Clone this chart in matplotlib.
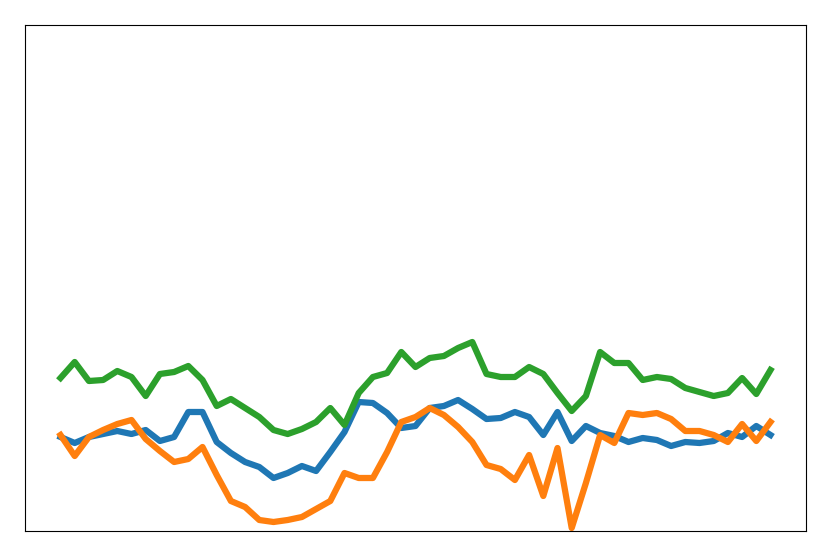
import numpy as np
import matplotlib
matplotlib.use("Agg")
import matplotlib.pyplot as plt

# heights (axis runs 0..506)
blue = [94, 88, 94, 97, 100, 97, 101, 90, 94, 119, 119, 89, 78, 69, 64, 53, 58,
        65, 60, 79, 99, 129, 128, 118, 103, 105, 123, 125, 131, 122, 112, 113,
        119, 114, 96, 119, 90, 105, 98, 95, 89, 93, 91, 85, 89, 88, 90, 98, 94,
        105, 96]
orange = [96, 75, 94, 101, 107, 111, 92, 80, 69, 72, 84, 56, 30, 24, 11, 9, 11,
          14, 22, 30, 58, 53, 53, 79, 109, 114, 123, 116, 104, 89, 66, 62, 51,
          76, 35, 83, 3, 48, 96, 88, 118, 116, 118, 112, 100, 100, 96, 89, 107,
          90, 109]
green = [153, 169, 150, 151, 160, 154, 135, 157, 159, 165, 151, 125, 132, 123,
         114, 101, 97, 102, 109, 123, 106, 138, 154, 158, 179, 164, 173, 175,
         183, 189, 157, 154, 154, 164, 157, 138, 120, 135, 179, 168, 168, 151,
         154, 152, 143, 139, 135, 138, 153, 137, 161]

x = np.arange(len(blue))

fig = plt.figure(figsize=(8.31, 5.57), dpi=100)
ax = fig.add_axes([25 / 831, 26 / 557, 781 / 831, 506 / 557])

ax.plot(x, blue, color="#1f77b4", lw=4.5)
ax.plot(x, orange, color="#ff7f0e", lw=4.5)
ax.plot(x, green, color="#2ca02c", lw=4.5)

ax.set_ylim(0, 506)
ax.set_xticks([])
ax.set_yticks([])

fig.savefig("out.png", dpi=100)
